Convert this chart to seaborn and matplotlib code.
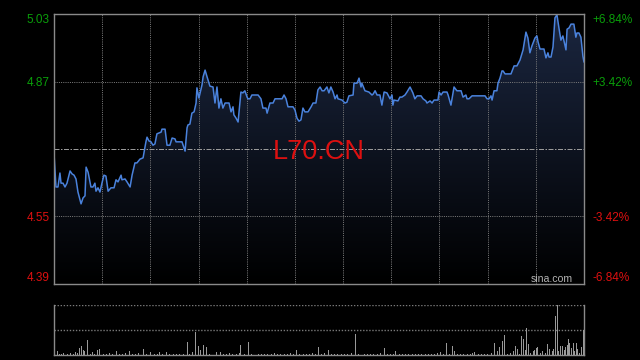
import numpy as np
import pandas as pd
import matplotlib
matplotlib.use("Agg")
import matplotlib.pyplot as plt
import seaborn as sns

# ---------------- data ----------------
minutes = [0.0, 0.9, 1.8, 2.7, 3.2, 4.1, 5.0, 5.9, 7.3, 8.2, 9.1, 10.0, 10.9, 12.3, 13.2, 14.1, 14.6, 15.5,
           16.8, 17.7, 18.6, 19.1, 20.0, 20.9, 21.8, 22.7, 23.6, 24.6, 25.9, 27.3, 28.2, 29.1, 30.5, 30.9,
           32.3, 33.2, 34.6, 35.5, 36.8, 37.7, 39.1, 40.5, 41.8, 42.3, 43.2, 44.1, 45.0, 45.9, 46.8, 48.7,
           49.1, 50.5, 51.4, 52.7, 53.7, 55.0, 55.5, 58.2, 59.6, 60.5, 60.9, 61.8, 62.7, 63.7, 64.6, 65.0,
           65.9, 67.3, 67.8, 68.7, 69.6, 70.9, 72.3, 73.2, 74.1, 75.0, 75.9, 76.8, 77.8, 79.6, 80.5, 81.4,
           81.8, 82.8, 83.7, 85.0, 85.9, 86.8, 87.8, 88.2, 89.1, 90.0, 92.8, 94.1, 95.0, 96.4, 96.9, 98.2,
           99.6, 100.5, 103.7, 104.6, 105.5, 106.4, 108.7, 109.6, 110.5, 111.4, 112.3, 113.2, 114.1, 115.5,
           116.9, 117.8, 119.1, 120.0, 121.0, 121.9, 122.8, 124.1, 125.0, 125.9, 126.9, 127.8, 128.7, 129.1,
           131.0, 132.3, 133.2, 134.1, 136.0, 136.4, 137.8, 138.7, 139.6, 140.0, 141.4, 143.2, 144.6, 145.1,
           146.0, 146.9, 148.2, 149.1, 150.1, 151.4, 152.8, 153.7, 154.1, 154.6, 156.4, 157.3, 158.2, 159.6,
           160.5, 161.9, 163.2, 164.1, 165.1, 166.9, 167.8, 169.1, 169.6, 171.0, 171.9, 172.8, 174.6, 175.1,
           176.0, 176.9, 178.7, 179.2, 180.5, 181.9, 183.2, 185.1, 186.0, 187.3, 187.8, 188.7, 190.1, 196.0,
           196.9, 197.8, 198.7, 199.2, 200.1, 201.4, 201.9, 202.8, 203.7, 204.2, 205.1, 207.8, 208.7, 209.2,
           210.5, 211.9, 213.3, 214.6, 215.5, 216.4, 217.3, 217.8, 218.7, 219.6, 220.1, 221.0, 222.8, 223.7,
           224.6, 225.1, 226.0, 226.9, 227.8, 228.7, 229.6, 230.5, 231.4, 232.8, 233.3, 234.2, 235.1, 236.4,
           237.3, 237.8, 238.7, 239.6, 240.5, 241.0]
prices = [4.700, 4.620, 4.620, 4.653, 4.629, 4.629, 4.620, 4.629, 4.658, 4.651, 4.648, 4.639, 4.608, 4.580,
          4.594, 4.599, 4.667, 4.655, 4.620, 4.620, 4.629, 4.610, 4.618, 4.608, 4.629, 4.648, 4.646, 4.610,
          4.618, 4.618, 4.637, 4.632, 4.648, 4.637, 4.639, 4.632, 4.620, 4.648, 4.677, 4.677, 4.686, 4.689,
          4.727, 4.738, 4.729, 4.727, 4.719, 4.722, 4.746, 4.750, 4.757, 4.757, 4.719, 4.719, 4.736, 4.734,
          4.727, 4.727, 4.705, 4.760, 4.767, 4.769, 4.795, 4.798, 4.819, 4.855, 4.831, 4.862, 4.881, 4.897,
          4.881, 4.859, 4.857, 4.819, 4.857, 4.807, 4.829, 4.807, 4.819, 4.819, 4.798, 4.810, 4.791, 4.783,
          4.774, 4.845, 4.843, 4.848, 4.833, 4.829, 4.829, 4.838, 4.838, 4.829, 4.807, 4.807, 4.795, 4.819,
          4.819, 4.829, 4.829, 4.838, 4.829, 4.810, 4.810, 4.802, 4.783, 4.776, 4.779, 4.807, 4.798, 4.798,
          4.810, 4.819, 4.819, 4.850, 4.857, 4.848, 4.848, 4.857, 4.843, 4.857, 4.845, 4.829, 4.838, 4.829,
          4.826, 4.819, 4.821, 4.836, 4.838, 4.866, 4.866, 4.878, 4.857, 4.866, 4.848, 4.845, 4.838, 4.840,
          4.848, 4.838, 4.838, 4.814, 4.845, 4.843, 4.829, 4.838, 4.814, 4.826, 4.824, 4.833, 4.833, 4.838,
          4.845, 4.857, 4.843, 4.829, 4.836, 4.836, 4.829, 4.824, 4.819, 4.824, 4.819, 4.826, 4.826, 4.845,
          4.838, 4.845, 4.845, 4.838, 4.814, 4.857, 4.848, 4.848, 4.833, 4.838, 4.829, 4.829, 4.836, 4.836,
          4.829, 4.829, 4.836, 4.826, 4.848, 4.848, 4.866, 4.878, 4.895, 4.895, 4.888, 4.888, 4.900, 4.907,
          4.907, 4.921, 4.945, 4.987, 4.973, 4.938, 4.954, 4.961, 4.973, 4.978, 4.964, 4.947, 4.947, 4.926,
          4.938, 4.928, 4.928, 4.952, 5.021, 5.028, 4.997, 4.968, 4.978, 4.945, 4.994, 4.997, 5.006, 5.006,
          4.975, 4.985, 4.985, 4.975, 4.930, 4.916]

vol_minutes = [1.5, 2.6, 3.6, 4.4, 5.0, 6.3, 7.7, 9.0, 10.0, 10.8, 11.5, 12.3, 13.3, 13.8, 15.2, 16.4, 17.6,
               18.6, 19.6, 20.9, 22.3, 23.8, 25.2, 26.7, 28.2, 29.6, 31.0, 32.4, 34.3, 35.8, 37.2, 38.6, 40.6,
               42.1, 44.0, 45.6, 47.0, 47.9, 49.4, 51.2, 52.7, 54.2, 55.7, 57.2, 58.8, 60.6, 61.8, 62.9, 64.3,
               65.6, 66.8, 68.2, 69.3, 70.7, 72.3, 74.0, 75.5, 77.0, 78.4, 79.9, 81.3, 82.8, 84.2, 85.0, 86.6,
               88.4, 89.9, 91.4, 92.9, 94.3, 95.8, 97.3, 98.8, 100.2, 101.7, 103.2, 104.7, 106.1, 107.6, 109.0,
               110.3, 111.8, 113.3, 114.8, 116.2, 117.7, 118.9, 120.2, 121.6, 123.1, 124.7, 126.2, 127.7, 129.1,
               130.6, 132.1, 133.6, 135.1, 136.9, 138.3, 139.6, 141.1, 142.6, 144.0, 145.5, 147.0, 148.5, 150.2,
               151.6, 153.1, 154.5, 155.5, 157.0, 158.5, 160.0, 161.4, 162.9, 164.4, 165.9, 167.3, 168.8, 170.3,
               171.8, 173.2, 174.6, 175.8, 177.2, 178.4, 179.8, 181.1, 182.0, 183.5, 185.0, 186.4, 187.9, 189.4,
               190.5, 191.4, 192.9, 194.4, 195.8, 197.3, 198.8, 200.1, 201.6, 202.5, 203.9, 204.8, 206.0, 207.5,
               208.9, 209.9, 210.8, 211.7, 212.5, 213.4, 214.5, 214.9, 215.7, 216.8, 218.0, 218.7, 219.5, 219.9,
               221.0, 222.2, 223.3, 224.3, 225.2, 226.6, 227.1, 228.1, 228.9, 229.6, 230.4, 231.1, 232.0, 232.7,
               233.4, 234.0, 234.6, 235.4, 236.1, 236.9, 237.7, 238.1, 239.0, 239.9, 240.7, 241.0]
vol_values = [10, 3, 3, 4, 35, 3, 5, 3, 8, 5, 20, 26, 13, 10, 43, 3, 7,
              3, 13, 16, 3, 3, 4, 3, 10, 3, 3, 5, 10, 3, 3, 5, 16,
              3, 7, 3, 3, 7, 3, 7, 3, 3, 3, 3, 3, 37, 3, 7, 68,
              25, 13, 28, 22, 3, 4, 7, 7, 3, 3, 4, 3, 3, 5, 28, 3,
              37, 3, 3, 3, 3, 3, 3, 3, 4, 3, 3, 3, 3, 4, 3,
              13, 3, 3, 3, 3, 4, 3, 22, 3, 4, 13, 3, 3, 3,
              3, 3, 3, 4, 61, 3, 10, 3, 3, 3, 3, 3, 4, 19,
              3, 3, 3, 10, 3, 3, 3, 3, 3, 3, 3, 3, 3, 3,
              3, 3, 4, 7, 3, 35, 3, 25, 10, 3, 3, 3, 3, 3,
              4, 7, 3, 3, 3, 3, 4, 35, 10, 22, 40, 58, 3, 4,
              10, 25, 16, 3, 55, 46, 13, 79, 31, 4, 10, 13, 19, 22,
              4, 10, 4, 31, 16, 10, 16, 115, 149, 10, 25, 25, 13, 22,
              28, 46, 35, 19, 35, 10, 35, 16, 4, 22, 73, 125]

price_ticks = [4.39, 4.55, 4.71, 4.87, 5.03]
left_labels = ["4.39", "4.55", "", "4.87", "5.03"]
right_labels = ["-6.84%", "-3.42%", "", "+3.42%", "+6.84%"]
symbol = "L70.CN"
source = "sina.com"

# ---------------- style ----------------
sns.set_theme(style="dark")
plt.rcParams['font.family'] = ['Liberation Sans', 'DejaVu Sans']

GREEN = "#0a9e0a"
RED = "#dd1010"
GRID = "#7a7a7a"
SPINE = "#8a8a8a"

fig = plt.figure(figsize=(6.4, 3.6), dpi=100, facecolor="black")
ax = fig.add_axes([54 / 640, 76 / 360, 530 / 640, 270 / 360])
ax.set_facecolor("black")

xmin, xmax = 0, 241
ymin, ymax = price_ticks[0], price_ticks[-1]

# gradient fill under line
grad = np.linspace(1.0, 0.0, 256).reshape(-1, 1, 1)
top_col = np.array([0.105, 0.15, 0.25]).reshape(1, 1, 3)
img = grad * top_col
im = ax.imshow(img, extent=[xmin, xmax, ymin, ymax], aspect="auto", origin="upper", zorder=1)
poly = ax.fill_between(minutes, prices, ymin, color="none", linewidth=0)
im.set_clip_path(poly.get_paths()[0], transform=ax.transData)

df = pd.DataFrame({"minute": minutes, "price": prices})
sns.lineplot(data=df, x="minute", y="price", ax=ax, color="#4a82dc", linewidth=1.1,
             estimator=None, sort=False, zorder=3)

ax.set_xlim(xmin, xmax)
ax.set_ylim(ymin, ymax)
ax.set_xlabel("")
ax.set_ylabel("")
ax.set_xticks(np.linspace(xmin, xmax, 12))
ax.set_xticklabels([])
ax.set_yticks(price_ticks)
ax.set_yticklabels(left_labels)
ax.tick_params(axis="both", length=0)
ax.tick_params(axis="y", pad=3, labelsize=8.5)
ax.grid(True, color=GRID, linestyle=(0, (1, 1.2)), linewidth=0.72, zorder=2)
ax.set_axisbelow(False)
ygl = ax.get_ygridlines()
ygl[2].set_linestyle((0, (5, 1.5, 1.5, 1.5)))
ygl[2].set_color("#9a9a9a")
for k, lab in enumerate(ax.get_yticklabels()):
    lab.set_color(GREEN if price_ticks[k] > 4.71 else RED)
    if k == len(price_ticks) - 1:
        lab.set_va("top")
    elif k == 0:
        lab.set_va("bottom")
for s in ax.spines.values():
    s.set_color(SPINE)
    s.set_linewidth(1)
    s.set_zorder(4)

axr = ax.twinx()
axr.set_ylim(ymin, ymax)
axr.set_yticks(price_ticks)
axr.set_yticklabels(right_labels)
axr.tick_params(axis="y", length=0, pad=6, labelsize=8.5)
axr.grid(False)
for k, lab in enumerate(axr.get_yticklabels()):
    lab.set_color(GREEN if price_ticks[k] > 4.71 else RED)
    if k == len(price_ticks) - 1:
        lab.set_va("top")
    elif k == 0:
        lab.set_va("bottom")
for s in axr.spines.values():
    s.set_visible(False)

ax.text(120.5, 4.686, symbol, color=RED, fontsize=19.5, ha="center", va="baseline", zorder=5)
ax.text(0.979, 0.007, source, transform=ax.transAxes, color="#b4b4b4", fontsize=7.6,
        ha="right", va="baseline", zorder=5)

# ---------------- volume ----------------
axv = fig.add_axes([54 / 640, 5.5 / 360, 530 / 640, 49.5 / 360])
axv.set_facecolor("black")
vmax = max(vol_values)
axv.bar(vol_minutes, vol_values, width=0.45, color="#999999", linewidth=0, zorder=3)
axv.set_xlim(xmin, xmax)
axv.set_ylim(0, vmax)
axv.set_xticks([])
axv.set_yticks([vmax / 2, vmax])
axv.set_yticklabels([])
axv.tick_params(length=0)
axv.grid(True, axis="y", color=GRID, linestyle=(0, (1, 1.2)), linewidth=1.0, zorder=2)
axv.grid(False, axis="x")
axv.spines["top"].set_visible(False)
for side in ["left", "right", "bottom"]:
    axv.spines[side].set_color(SPINE)
    axv.spines[side].set_linewidth(1)

fig.savefig("out.png", dpi=100, facecolor="black")
